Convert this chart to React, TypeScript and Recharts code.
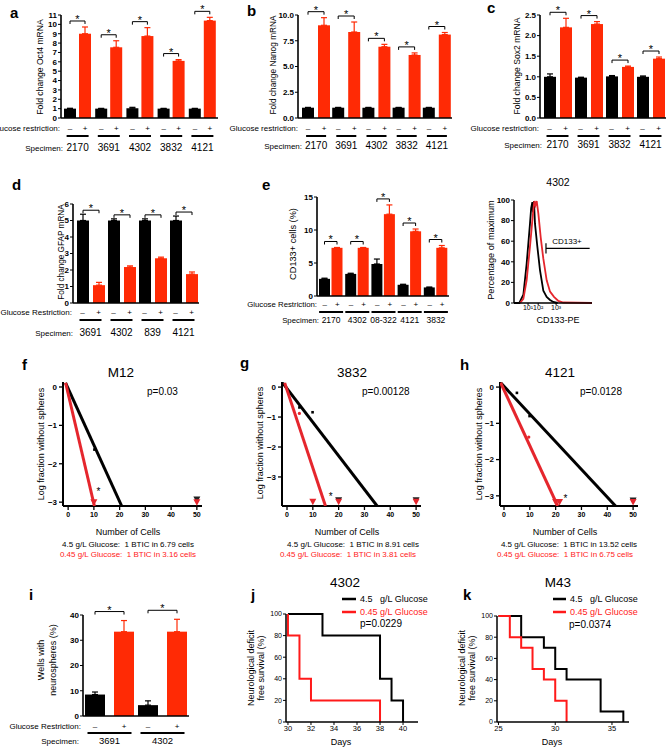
import React from 'react';
import {
  BarChart,
  Bar,
  XAxis,
  YAxis,
  ErrorBar,
  ScatterChart,
  Scatter,
  LineChart,
  Line,
  ReferenceLine,
} from 'recharts';

const FONT = '"Liberation Sans", Arial, Helvetica, sans-serif';
const BAR_RED = '#ff2a05';
const LINE_RED = '#e5262d';
const TXT_RED = '#ff2020';

// ═══════════════════════════════════════════════════════════════
// DATA
// ═══════════════════════════════════════════════════════════════

// a: Oct4
const specOct4 = ['2170', '3691', '4302', '3832', '4121'];
const ctrlOct4 = [1.0, 1.0, 1.05, 1.0, 1.0];
const ctrlErrOct4 = [0.04, 0.03, 0.09, 0.03, 0.03];
const gluOct4 = [9.0, 7.55, 8.75, 6.1, 10.4];
const gluErrOct4 = [0.72, 0.7, 0.9, 0.14, 0.35];
const ticksOct4 = [0, 1, 2, 3, 4, 5, 6, 7, 8, 9, 10, 11];

// b: Nanog
const specNanog = ['2170', '3691', '4302', '3832', '4121'];
const ctrlNanog = [1.0, 1.0, 1.0, 1.0, 1.0];
const ctrlErrNanog = [0.03, 0.03, 0.03, 0.03, 0.03];
const gluNanog = [9.0, 8.35, 6.92, 6.12, 8.1];
const gluErrNanog = [0.74, 0.97, 0.23, 0.2, 0.2];
const ticksNanog = [0, 2.5, 5, 7.5, 10];

// c: Sox2
const specSox2 = ['2170', '3691', '3832', '4121'];
const ctrlSox2 = [1.0, 0.98, 1.01, 1.0];
const ctrlErrSox2 = [0.07, 0.01, 0.02, 0.02];
const gluSox2 = [2.2, 2.28, 1.24, 1.44];
const gluErrSox2 = [0.22, 0.06, 0.02, 0.04];
const ticksSox2 = [0, 0.5, 1, 1.5, 2, 2.5];

// d: GFAP
const specGfap = ['3691', '4302', '839', '4121'];
const ctrlGfap = [5.0, 5.0, 5.0, 5.0];
const ctrlErrGfap = [0.38, 0.1, 0.1, 0.27];
const gluGfap = [1.08, 2.18, 2.71, 1.75];
const gluErrGfap = [0.17, 0.07, 0.07, 0.13];
const ticksGfap = [0, 1, 2, 3, 4, 5, 6];

// e: CD133+ cells
const specCd133 = ['2170', '4302', '08-322', '4121', '3832'];
const ctrlCd133 = [2.6, 3.35, 4.85, 1.7, 1.3];
const ctrlErrCd133 = [0.1, 0.1, 0.75, 0.08, 0.05];
const gluCd133 = [7.3, 7.3, 12.4, 9.8, 7.3];
const gluErrCd133 = [0.05, 0.05, 1.4, 0.35, 0.35];
const ticksCd133 = [0, 5, 10, 15];

// e (right): flow histogram, x in plot units 0..100
const histBlack = [
  { x: 0, p: 0 }, { x: 6.8, p: 0 }, { x: 12, p: 8 }, { x: 16.2, p: 38 }, { x: 20.5, p: 77 },
  { x: 22, p: 92 }, { x: 23.5, p: 98 }, { x: 24.3, p: 88 }, { x: 25.6, p: 99 }, { x: 26.9, p: 77 },
  { x: 29.9, p: 55 }, { x: 33.3, p: 32 }, { x: 37.6, p: 12 }, { x: 41.9, p: 6 }, { x: 46.2, p: 3 },
  { x: 50.4, p: 1 }, { x: 56, p: 0 },
];
const histRed = [
  { x: 7.7, p: 0 }, { x: 12, p: 4 }, { x: 16.2, p: 22 }, { x: 20.5, p: 55 }, { x: 23.5, p: 80 },
  { x: 25, p: 92 }, { x: 26.1, p: 99 }, { x: 27.5, p: 95 }, { x: 29.1, p: 99 }, { x: 31.2, p: 87 },
  { x: 34.2, p: 64 }, { x: 37.6, p: 43 }, { x: 41.9, p: 22 }, { x: 46.2, p: 11 }, { x: 51.3, p: 6 },
  { x: 56.8, p: 2 }, { x: 63.2, p: 0.5 }, { x: 100, p: 0 },
];
const histTicks = [18, 31, 54];
const histTickLabels = ['10¹', '10²', '10³'];
const gateX = [41, 97];
const gateY = 53;

// f/g/h: limiting dilution
const ldaXTicks = [0, 10, 20, 30, 40, 50];
const ldaYTicks = [0, -1, -2, -3];

const m12BlackLine = [{ x: -1, y: 0.11 }, { x: 20.8, y: -3.1 }];
const m12RedLine = [{ x: -1, y: 0.11 }, { x: 10.2, y: -3.1 }];
const m12BlackPts = [{ x: 10.2, y: -1.63 }];
const m12RedPts: { x: number; y: number }[] = [];
const m12BlackTri = [{ x: 50, y: -2.93 }];
const m12RedTri = [{ x: 10, y: -3.0 }, { x: 50, y: -3.0 }];
const m12Stars = [{ x: 11.8, y: -2.72 }];

const s3832BlackLine = [{ x: -1.7, y: 0.14 }, { x: 34.9, y: -3.97 }];
const s3832RedLine = [{ x: -0.9, y: 0.14 }, { x: 14.9, y: -3.97 }];
const s3832BlackPts = [{ x: 4.8, y: -0.68 }, { x: 9.9, y: -0.84 }];
const s3832RedPts = [{ x: 4.8, y: -0.88 }];
const s3832BlackTri = [{ x: 20, y: -3.78 }, { x: 50, y: -3.78 }];
const s3832RedTri = [{ x: 10, y: -3.83 }, { x: 20, y: -3.83 }, { x: 50, y: -3.83 }];
const s3832Stars = [{ x: 16.9, y: -3.65 }];

const s4121BlackLine = [{ x: -1.3, y: 0.12 }, { x: 43.2, y: -3.28 }];
const s4121RedLine = [{ x: -1.3, y: 0.12 }, { x: 20.8, y: -3.28 }];
const s4121BlackPts = [{ x: 5, y: -0.16 }, { x: 9.9, y: -0.8 }];
const s4121RedPts = [{ x: 9.6, y: -1.38 }];
const s4121BlackTri = [{ x: 50, y: -3.13 }];
const s4121RedTri = [{ x: 20, y: -3.17 }, { x: 21.5, y: -3.17 }, { x: 50, y: -3.17 }];
const s4121Stars = [{ x: 23.8, y: -3.07 }];

// i: neurospheres
const specSphere = ['3691', '4302'];
const ctrlSphere = [8.5, 4.3];
const ctrlErrSphere = [1.0, 1.7];
const gluSphere = [33.4, 33.4];
const gluErrSphere = [4.4, 4.9];
const ticksSphere = [0, 10, 20, 30, 40];

// j/k: survival
const surv4302Black = [{ d: 30, s: 100 }, { d: 33, s: 80 }, { d: 38, s: 40 }, { d: 39, s: 20 }, { d: 40, s: 0 }];
const surv4302Red = [{ d: 30, s: 100 }, { d: 30, s: 80 }, { d: 31, s: 40 }, { d: 32, s: 20 }, { d: 38, s: 0 }];
const surv4302Ticks = [30, 32, 34, 36, 38, 40];
const survM43Black = [{ d: 25, s: 100 }, { d: 27, s: 80 }, { d: 29, s: 70 }, { d: 30, s: 50 }, { d: 31, s: 40 }, { d: 34, s: 10 }, { d: 36, s: 0 }];
const survM43Red = [{ d: 25, s: 100 }, { d: 26, s: 80 }, { d: 27, s: 70 }, { d: 28, s: 50 }, { d: 29, s: 40 }, { d: 30, s: 20 }, { d: 31, s: 0 }];
const survM43Ticks = [25, 30, 35];
const survYTicks = [0, 20, 40, 60, 80, 100];

// ═══════════════════════════════════════════════════════════════
// BAR PANEL (black control vs red glucose restriction)
// ═══════════════════════════════════════════════════════════════

type BarCfg = {
  cl: number; ct: number; x0: number; x1: number; y0: number; y1: number; bottom: number;
  specs: string[]; ctrl: number[]; ctrlErr: number[]; glu: number[]; gluErr: number[];
  yMax: number; yTicks: number[]; fmt?: (v: number) => string;
  barSize: number; barGap: number; padL: number; off: number;
  signY: number; lineY: number; specY: number; lineHalf: number; specFont: number;
};

function BarPanel(c: BarCfg) {
  const data = c.specs.map((s, i) => ({
    spec: s,
    ctrl: c.ctrl[i],
    glu: c.glu[i],
    ctrlE: [0, c.ctrlErr[i]],
    gluE: [0, c.gluErr[i]],
  }));
  const step = c.barSize + c.barGap;

  const tick = (p: any) => {
    const x = p.x;
    return (
      <g fontFamily={FONT} fill="#000">
        <text x={x - step / 2} y={c.signY - c.ct} textAnchor="middle" fontSize={8}>–</text>
        <text x={x + step / 2} y={c.signY - c.ct} textAnchor="middle" fontSize={8}>+</text>
        <line x1={x - c.lineHalf} x2={x + c.lineHalf} y1={c.lineY - c.ct} y2={c.lineY - c.ct} stroke="#000" strokeWidth={2} />
        <text x={x} y={c.specY - c.ct} textAnchor="middle" fontSize={c.specFont}>{p.payload.value}</text>
      </g>
    );
  };

  // red bar + significance bracket spanning back to the black bar
  const redShape = (p: any) => {
    const { x, y, width, height, payload } = p;
    const ppu = height / payload.glu;
    const base = y + height;
    const top = Math.max(payload.ctrl + payload.ctrlE[1], payload.glu + payload.gluE[1]);
    const by = base - top * ppu - c.off;
    const xr = x + width / 2;
    const xl = xr - step;
    return (
      <g>
        <rect x={x} y={y} width={width} height={height} fill={BAR_RED} />
        <path d={`M${xl},${by + 3}V${by}H${xr}V${by + 3}`} stroke="#000" strokeWidth={1} fill="none" />
        <text x={(xl + xr) / 2} y={by + 2} textAnchor="middle" fontSize={11} fontFamily={FONT}>*</text>
      </g>
    );
  };

  return (
    <div style={{ position: 'absolute', left: c.cl, top: c.ct }}>
      <BarChart
        width={c.x1 - c.cl + 4}
        height={c.bottom - c.ct}
        data={data}
        margin={{ top: c.y0 - c.ct, right: 4, bottom: 0, left: 0 }}
        barSize={c.barSize}
        barGap={c.barGap}
      >
        <XAxis
          dataKey="spec"
          height={c.bottom - c.y1}
          interval={0}
          tickLine={false}
          axisLine={{ stroke: '#000', strokeWidth: 1.6 }}
          tick={tick}
          padding={{ left: c.padL, right: 0 }}
        />
        <YAxis
          type="number"
          domain={[0, c.yMax]}
          ticks={c.yTicks}
          interval={0}
          width={c.x0 - c.cl}
          tickFormatter={c.fmt}
          axisLine={{ stroke: '#000', strokeWidth: 1.6 }}
          tickLine={{ stroke: '#000', strokeWidth: 1 }}
          tickSize={3}
          tickMargin={1}
          tick={{ fontSize: 8, fontWeight: 700, fill: '#000', fontFamily: FONT }}
        />
        <Bar dataKey="ctrl" fill="#000" isAnimationActive={false}>
          <ErrorBar dataKey="ctrlE" width={3} stroke="#000" strokeWidth={1.2} direction="y" />
        </Bar>
        <Bar dataKey="glu" fill={BAR_RED} shape={redShape} isAnimationActive={false}>
          <ErrorBar dataKey="gluE" width={3} stroke={BAR_RED} strokeWidth={1.2} direction="y" />
        </Bar>
      </BarChart>
    </div>
  );
}

// ═══════════════════════════════════════════════════════════════
// LIMITING DILUTION PANEL
// ═══════════════════════════════════════════════════════════════

type Pt = { x: number; y: number };
type LdaCfg = {
  cl: number; ct: number; x0: number; x1: number; y0: number; y1: number; bottom: number;
  xDom: [number, number]; yDom: [number, number];
  bLine: Pt[]; rLine: Pt[]; bPts: Pt[]; rPts: Pt[]; bTri: Pt[]; rTri: Pt[]; stars: Pt[];
};

const minusFmt = (v: number) => (v < 0 ? '\u2212' + Math.abs(v) : String(v));
const noDot = () => <g />;
const triShape = (color: string) => (p: any) => (
  <path d={`M${p.cx - 3.5},${p.cy - 3}L${p.cx + 3.5},${p.cy - 3}L${p.cx},${p.cy + 3.5}Z`} fill={color} />
);
const squareShape = (p: any) => <rect x={p.cx - 1.3} y={p.cy - 1.3} width={2.6} height={2.6} fill="#000" />;
const redDot = (p: any) => <circle cx={p.cx} cy={p.cy} r={1.6} fill={LINE_RED} />;
const starShape = (p: any) => (
  <text x={p.cx} y={p.cy + 4} textAnchor="middle" fontSize={10} fontFamily={FONT} fill="#000">*</text>
);

function LdaPanel(c: LdaCfg) {
  return (
    <div style={{ position: 'absolute', left: c.cl, top: c.ct }}>
      <ScatterChart
        width={c.x1 - c.cl + 6}
        height={c.bottom - c.ct}
        margin={{ top: c.y0 - c.ct, right: 6, bottom: 0, left: 0 }}
      >
        <XAxis
          type="number"
          dataKey="x"
          domain={c.xDom}
          ticks={ldaXTicks}
          interval={0}
          allowDataOverflow
          height={c.bottom - c.y1}
          axisLine={{ stroke: '#000', strokeWidth: 2 }}
          tickLine={{ stroke: '#000', strokeWidth: 1.3 }}
          tickSize={4}
          tickMargin={2}
          tick={{ fontSize: 7, fontWeight: 700, fill: '#000', fontFamily: FONT }}
        />
        <YAxis
          type="number"
          dataKey="y"
          domain={c.yDom}
          ticks={ldaYTicks}
          interval={0}
          allowDataOverflow
          width={c.x0 - c.cl}
          tickFormatter={minusFmt}
          axisLine={{ stroke: '#000', strokeWidth: 2 }}
          tickLine={{ stroke: '#000', strokeWidth: 1.3 }}
          tickSize={4}
          tickMargin={2}
          tick={{ fontSize: 8, fontWeight: 700, fill: '#000', fontFamily: FONT }}
        />
        <Scatter data={c.bLine} line={{ stroke: '#000', strokeWidth: 3 }} shape={noDot} isAnimationActive={false} />
        <Scatter data={c.rLine} line={{ stroke: LINE_RED, strokeWidth: 3 }} shape={noDot} isAnimationActive={false} />
        <Scatter data={c.bPts} shape={squareShape} isAnimationActive={false} />
        {c.rPts.length > 0 && <Scatter data={c.rPts} shape={redDot} isAnimationActive={false} />}
        <Scatter data={c.bTri} shape={triShape('#222')} isAnimationActive={false} />
        <Scatter data={c.rTri} shape={triShape(LINE_RED)} isAnimationActive={false} />
        <Scatter data={c.stars} shape={starShape} isAnimationActive={false} />
      </ScatterChart>
    </div>
  );
}

// ═══════════════════════════════════════════════════════════════
// SURVIVAL PANEL
// ═══════════════════════════════════════════════════════════════

type SurvCfg = {
  cl: number; ct: number; x0: number; x1: number; y0: number; y1: number; bottom: number;
  xDom: [number, number]; xTicks: number[];
  black: { d: number; s: number }[]; red: { d: number; s: number }[];
};

function SurvPanel(c: SurvCfg) {
  return (
    <div style={{ position: 'absolute', left: c.cl, top: c.ct }}>
      <LineChart
        width={c.x1 - c.cl + 4}
        height={c.bottom - c.ct}
        margin={{ top: c.y0 - c.ct, right: 4, bottom: 0, left: 0 }}
      >
        <XAxis
          type="number"
          dataKey="d"
          domain={c.xDom}
          ticks={c.xTicks}
          interval={0}
          allowDataOverflow
          height={c.bottom - c.y1}
          axisLine={{ stroke: '#000', strokeWidth: 1.5 }}
          tickLine={{ stroke: '#000' }}
          tickSize={3}
          tickMargin={1}
          tick={{ fontSize: 7.5, fill: '#000', fontFamily: FONT }}
        />
        <YAxis
          type="number"
          domain={[0, 100]}
          ticks={survYTicks}
          interval={0}
          width={c.x0 - c.cl}
          axisLine={{ stroke: '#000', strokeWidth: 1.5 }}
          tickLine={{ stroke: '#000' }}
          tickSize={3}
          tickMargin={1}
          tick={{ fontSize: 7, fill: '#000', fontFamily: FONT }}
        />
        <Line data={c.black} dataKey="s" type="stepAfter" stroke="#000" strokeWidth={2} dot={false} isAnimationActive={false} />
        <Line data={c.red} dataKey="s" type="stepAfter" stroke="#ff1a1a" strokeWidth={2} dot={false} isAnimationActive={false} />
      </LineChart>
    </div>
  );
}

// ═══════════════════════════════════════════════════════════════
// FLOW HISTOGRAM
// ═══════════════════════════════════════════════════════════════

function HistPanel() {
  const cl = 494, ct = 190, x0 = 514, x1 = 592, y0 = 200, y1 = 303, bottom = 316;
  return (
    <div style={{ position: 'absolute', left: cl, top: ct }}>
      <LineChart width={x1 - cl + 4} height={bottom - ct} margin={{ top: y0 - ct, right: 4, bottom: 0, left: 0 }}>
        <XAxis
          type="number"
          dataKey="x"
          domain={[0, 100]}
          ticks={histTicks}
          interval={0}
          height={bottom - y1}
          tickFormatter={(v: number) => histTickLabels[histTicks.indexOf(v)]}
          axisLine={{ stroke: '#000', strokeWidth: 1.5 }}
          tickLine={{ stroke: '#000' }}
          tickSize={2}
          tickMargin={0}
          tick={{ fontSize: 7, fill: '#000', fontFamily: FONT }}
        />
        <YAxis
          type="number"
          domain={[0, 100]}
          ticks={[0, 20, 40, 60, 80, 100]}
          interval={0}
          width={x0 - cl}
          axisLine={{ stroke: '#000', strokeWidth: 1.5 }}
          tickLine={{ stroke: '#000' }}
          tickSize={3}
          tickMargin={1}
          tick={{ fontSize: 8, fontWeight: 700, fill: '#000', fontFamily: FONT }}
        />
        <Line data={histBlack} dataKey="p" type="linear" stroke="#000" strokeWidth={1.8} dot={false} isAnimationActive={false} />
        <Line data={histRed} dataKey="p" type="linear" stroke={LINE_RED} strokeWidth={1.8} dot={false} isAnimationActive={false} />
        <ReferenceLine segment={[{ x: gateX[0], y: gateY }, { x: gateX[1], y: gateY }]} stroke="#000" strokeWidth={1.2} />
        <ReferenceLine segment={[{ x: gateX[0], y: gateY - 5 }, { x: gateX[0], y: gateY + 5 }]} stroke="#000" strokeWidth={1.2} />
      </LineChart>
    </div>
  );
}

// ═══════════════════════════════════════════════════════════════
// TEXT HELPERS
// ═══════════════════════════════════════════════════════════════

const T = ({ x, y, s = 8, w = 400, a = 'start', c = '#000', rot = false, children }: any) => (
  <text
    x={x}
    y={y}
    fontSize={s}
    fontWeight={w}
    textAnchor={a}
    fill={c}
    style={{ whiteSpace: 'pre' }}
    transform={rot ? `rotate(-90 ${x} ${y})` : undefined}
  >
    {children}
  </text>
);

export default function App() {
  return (
    <div
      style={{
        position: 'absolute',
        left: 0,
        top: 0,
        width: 671,
        height: 750,
        background: '#fff',
        overflow: 'hidden',
        fontFamily: FONT,
      }}
    >
      <BarPanel
        cl={0} ct={0} x0={61} x1={218} y0={15} y1={118} bottom={158}
        specs={specOct4} ctrl={ctrlOct4} ctrlErr={ctrlErrOct4} glu={gluOct4} gluErr={gluErrOct4}
        yMax={11} yTicks={ticksOct4}
        barSize={12} barGap={3} padL={1} off={6}
        signY={131} lineY={136} specY={151} lineHalf={11} specFont={10}
      />
      <BarPanel
        cl={240} ct={0} x0={298} x1={452} y0={15} y1={118} bottom={158}
        specs={specNanog} ctrl={ctrlNanog} ctrlErr={ctrlErrNanog} glu={gluNanog} gluErr={gluErrNanog}
        yMax={10} yTicks={ticksNanog} fmt={(v: number) => v.toFixed(1)}
        barSize={12} barGap={4} padL={3} off={6}
        signY={131} lineY={136} specY={149} lineHalf={10} specFont={10}
      />
      <BarPanel
        cl={480} ct={0} x0={540} x1={666} y0={15} y1={118} bottom={158}
        specs={specSox2} ctrl={ctrlSox2} ctrlErr={ctrlErrSox2} glu={gluSox2} gluErr={gluErrSox2}
        yMax={2.5} yTicks={ticksSox2} fmt={(v: number) => v.toFixed(1)}
        barSize={12} barGap={4} padL={2} off={6}
        signY={131} lineY={136} specY={148} lineHalf={11} specFont={10}
      />
      <BarPanel
        cl={0} ct={180} x0={73} x1={199} y0={204} y1={303} bottom={342}
        specs={specGfap} ctrl={ctrlGfap} ctrlErr={ctrlErrGfap} glu={gluGfap} gluErr={gluErrGfap}
        yMax={6} yTicks={ticksGfap}
        barSize={12} barGap={4} padL={2} off={4}
        signY={315} lineY={320} specY={336} lineHalf={11} specFont={10}
      />
      <BarPanel
        cl={270} ct={180} x0={317} x1={449} y0={197} y1={296} bottom={330}
        specs={specCd133} ctrl={ctrlCd133} ctrlErr={ctrlErrCd133} glu={gluCd133} gluErr={gluErrCd133}
        yMax={15} yTicks={ticksCd133}
        barSize={11} barGap={1.5} padL={1} off={6}
        signY={307} lineY={312} specY={323} lineHalf={12} specFont={8.5}
      />
      <HistPanel />

      <LdaPanel
        cl={20} ct={372} x0={63} x1={202} y0={382} y1={506} bottom={526}
        xDom={[-2, 52]} yDom={[-3.1, 0.13]}
        bLine={m12BlackLine} rLine={m12RedLine} bPts={m12BlackPts} rPts={m12RedPts}
        bTri={m12BlackTri} rTri={m12RedTri} stars={m12Stars}
      />
      <LdaPanel
        cl={240} ct={372} x0={282} x1={421} y0={382} y1={506} bottom={526}
        xDom={[-1.94, 51.9]} yDom={[-3.97, 0.17]}
        bLine={s3832BlackLine} rLine={s3832RedLine} bPts={s3832BlackPts} rPts={s3832RedPts}
        bTri={s3832BlackTri} rTri={s3832RedTri} stars={s3832Stars}
      />
      <LdaPanel
        cl={458} ct={372} x0={500} x1={638} y0={382} y1={506} bottom={526}
        xDom={[-1.55, 51.9]} yDom={[-3.28, 0.14]}
        bLine={s4121BlackLine} rLine={s4121RedLine} bPts={s4121BlackPts} rPts={s4121RedPts}
        bTri={s4121BlackTri} rTri={s4121RedTri} stars={s4121Stars}
      />

      <BarPanel
        cl={0} ct={590} x0={83} x1={189} y0={615} y1={716} bottom={750}
        specs={specSphere} ctrl={ctrlSphere} ctrlErr={ctrlErrSphere} glu={gluSphere} gluErr={gluErrSphere}
        yMax={40} yTicks={ticksSphere}
        barSize={20} barGap={9} padL={0} off={9}
        signY={729} lineY={733} specY={744} lineHalf={22} specFont={9.5}
      />
      <SurvPanel
        cl={266} ct={608} x0={286} x1={418} y0={614} y1={722} bottom={736}
        xDom={[29.83, 41.3]} xTicks={surv4302Ticks} black={surv4302Black} red={surv4302Red}
      />
      <SurvPanel
        cl={477} ct={608} x0={497} x1={629} y0={616} y1={722} bottom={736}
        xDom={[24.87, 36.5]} xTicks={survM43Ticks} black={survM43Black} red={survM43Red}
      />

      {/* text overlay */}
      <svg width={671} height={750} style={{ position: 'absolute', left: 0, top: 0, pointerEvents: 'none' }} fontFamily={FONT}>
        {/* panel letters */}
        <T x={10} y={18} s={15} w={700}>a</T>
        <T x={247} y={16} s={15} w={700}>b</T>
        <T x={487} y={13} s={15} w={700}>c</T>
        <T x={12} y={190} s={15} w={700}>d</T>
        <T x={262} y={190} s={15} w={700}>e</T>
        <T x={22} y={370} s={15} w={700}>f</T>
        <T x={240} y={368} s={15} w={700}>g</T>
        <T x={460} y={370} s={15} w={700}>h</T>
        <T x={29} y={600} s={15} w={700}>i</T>
        <T x={251} y={600} s={15} w={700}>j</T>
        <T x={463} y={600} s={15} w={700}>k</T>

        {/* y-axis titles */}
        <T x={43} y={67} s={8.6} a="middle" rot>Fold change Oct4 mRNA</T>
        <T x={276} y={65} s={8.3} a="middle" rot>Fold change Nanog mRNA</T>
        <T x={520} y={66} s={8.6} a="middle" rot>Fold change Sox2 mRNA</T>
        <T x={64} y={252} s={8.2} a="middle" rot>Fold change GFAP mRNA</T>
        <T x={296} y={244} s={9.2} a="middle" rot>CD133+ cells (%)</T>
        <T x={494} y={250} s={9.2} a="middle" rot>Percentage of maximum</T>
        <T x={44} y={444} s={9} a="middle" rot>Log fraction without spheres</T>
        <T x={263} y={443} s={9} a="middle" rot>Log fraction without spheres</T>
        <T x={482} y={444} s={9} a="middle" rot>Log fraction without spheres</T>
        <T x={44} y={660} s={9} a="middle" rot>Wells with</T>
        <T x={56} y={660} s={9} a="middle" rot>neurospheres (%)</T>
        <T x={254} y={668} s={9} a="middle" rot>Neurological deficit</T>
        <T x={264} y={668} s={9} a="middle" rot>free survival (%)</T>
        <T x={465} y={668} s={9} a="middle" rot>Neurological deficit</T>
        <T x={475} y={668} s={9} a="middle" rot>free survival (%)</T>

        {/* row labels */}
        <T x={60} y={131} a="end">Glucose restriction:</T>
        <T x={63} y={151} a="end">Specimen:</T>
        <T x={298} y={131} a="end">Glucose restriction:</T>
        <T x={302} y={149} a="end">Specimen:</T>
        <T x={539} y={131} a="end">Glucose restriction:</T>
        <T x={542} y={148} a="end">Specimen:</T>
        <T x={72} y={315} a="end">Glucose Restriction:</T>
        <T x={73} y={336} a="end">Specimen:</T>
        <T x={317} y={307} s={7.8} a="end">Glucose Restriction:</T>
        <T x={319} y={323} s={7.8} a="end">Specimen:</T>
        <T x={81} y={729} a="end">Glucose Restriction:</T>
        <T x={79} y={744} a="end">Specimen:</T>

        {/* histogram labels */}
        <T x={558} y={186} s={10.5} a="middle">4302</T>
        <T x={567} y={244} s={8} a="middle">CD133+</T>
        <T x={558} y={323} s={9} a="middle">CD133-PE</T>

        {/* limiting dilution labels */}
        <T x={121} y={377} s={13.5} a="middle">M12</T>
        <T x={352} y={377} s={13.5} a="middle">3832</T>
        <T x={560} y={377} s={13.5} a="middle">4121</T>
        <T x={147} y={395} s={10}>p=0.03</T>
        <T x={362} y={395} s={10}>p=0.00128</T>
        <T x={580} y={395} s={10}>p=0.0128</T>
        <T x={128} y={535} s={9} a="middle">Number of Cells</T>
        <T x={347} y={535} s={9} a="middle">Number of Cells</T>
        <T x={565} y={535} s={9} a="middle">Number of Cells</T>
        <T x={128} y={547} a="middle">{'4.5 g/L Glucose:  1 BTIC in 6.79 cells'}</T>
        <T x={128} y={557} a="middle" c={TXT_RED}>{'0.45 g/L Glucose:  1 BTIC in 3.16 cells'}</T>
        <T x={353} y={547} a="middle">{'4.5 g/L Glucose:  1 BTIC in 8.91 cells'}</T>
        <T x={348} y={557} a="middle" c={TXT_RED}>{'0.45 g/L Glucose:  1 BTIC in 3.81 cells'}</T>
        <T x={569} y={547} a="middle">{'4.5 g/L Glucose:  1 BTIC in 13.52 cells'}</T>
        <T x={565} y={557} a="middle" c={TXT_RED}>{'0.45 g/L Glucose:  1 BTIC in 6.75 cells'}</T>

        {/* survival labels */}
        <T x={345} y={587} s={13.5} a="middle">4302</T>
        <line x1={342} x2={356} y1={599} y2={599} stroke="#000" strokeWidth={2.5} />
        <T x={360} y={602} s={9}>{'4.5   g/L Glucose'}</T>
        <line x1={342} x2={356} y1={612} y2={612} stroke="#ff1a1a" strokeWidth={2.5} />
        <T x={360} y={615} s={9} c={TXT_RED}>0.45 g/L Glucose</T>
        <T x={360} y={627} s={10}>p=0.0229</T>
        <T x={341} y={745} s={9} a="middle">Days</T>

        <T x={558} y={587} s={13.5} a="middle">M43</T>
        <line x1={553} x2={566} y1={599} y2={599} stroke="#000" strokeWidth={2.5} />
        <T x={570} y={602} s={9}>{'4.5   g/L Glucose'}</T>
        <line x1={553} x2={566} y1={612} y2={612} stroke="#ff1a1a" strokeWidth={2.5} />
        <T x={570} y={615} s={9} c={TXT_RED}>0.45 g/L Glucose</T>
        <T x={569} y={628} s={10}>p=0.0374</T>
        <T x={552} y={745} s={9} a="middle">Days</T>
      </svg>
    </div>
  );
}
